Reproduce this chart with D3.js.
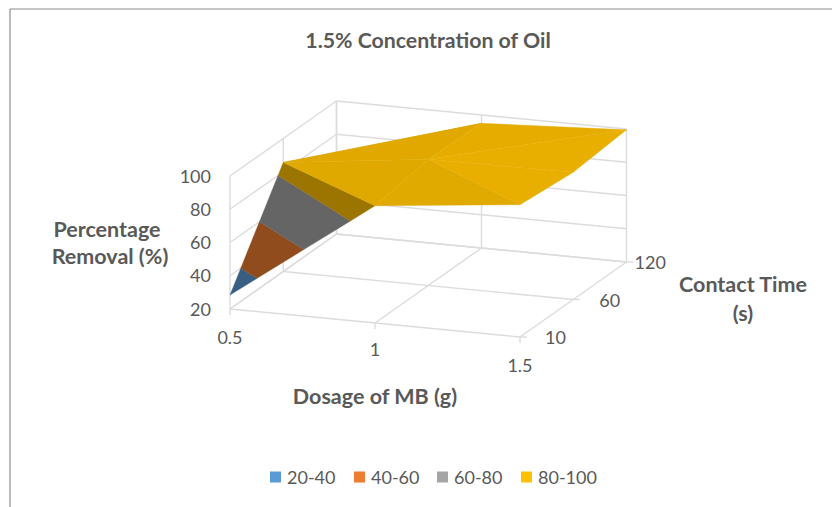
<!DOCTYPE html>
<html>
<head>
<meta charset="utf-8">
<script src="https://cdn.jsdelivr.net/npm/d3@7"></script>
<style>
html,body{margin:0;padding:0;background:#fff}
svg{display:block}
text{font-family:Lato,"Open Sans",sans-serif;fill:#595959}
</style>
</head>
<body>
<svg id="chart" width="832" height="507"></svg>
<script>
// Surface chart data: percentage removal by dosage (rows) and contact time (columns)
const doses = ["0.5", "1", "1.5"];
const times = ["10", "60", "120"];
const removalAtDose05 = [28.4, 85.6, 68];
const removalAtDose10 = [90.5, 96, 95];
const removalAtDose15 = [99.6, 96.5, 99.5];
const zTicks = [20, 40, 60, 80, 100];
const bandNames = ["20-40", "40-60", "60-80", "80-100"];
const bandColors = ["#5b9bd5", "#ed7d31", "#a5a5a5", "#ffc000"];
const removal = [removalAtDose05, removalAtDose10, removalAtDose15];

const svg = d3.select("#chart");

// Oblique projection: each axis contributes a screen offset through its own scales
const origin = [230, 309];
const doseX = d3.scalePoint(doses, [0, 290]);
const doseY = d3.scalePoint(doses, [0, 28]);
const timeX = d3.scalePoint(times, [0, 106.5]);
const timeY = d3.scalePoint(times, [0, -75]);
const zY = d3.scaleLinear([20, 100], [0, -133]);

const project = (d, t, z) => [
  origin[0] + doseX(d) + timeX(t),
  origin[1] + doseY(d) + timeY(t) + zY(z)
];
// Same projection for fractional grid positions on the surface
const projectVertex = v => {
  const x = origin[0] + doseX.range()[1] * v.i / 2 + timeX.range()[1] * v.j / 2;
  const y = origin[1] + doseY.range()[1] * v.i / 2 + timeY.range()[1] * v.j / 2 + zY(v.z);
  return [x, y];
};

// Frame around the chart area
const frame = svg.append("g").attr("stroke", "#8c8c8c").attr("stroke-width", 1.2);
frame.append("line").attr("x1", 10).attr("y1", 9).attr("x2", 832).attr("y2", 9);
frame.append("line").attr("x1", 10).attr("y1", 9).attr("x2", 10).attr("y2", 507);

// Walls and floor grid
const grid = svg.append("g").attr("stroke", "#dcdcdc").attr("stroke-width", 1.4).attr("fill", "none");
const seg = (a, b) => grid.append("line")
  .attr("x1", a[0]).attr("y1", a[1]).attr("x2", b[0]).attr("y2", b[1]);
const d0 = doses[0], d2 = doses[2], t0 = times[0], t2 = times[2];

zTicks.forEach(z => {
  seg(project(d0, t0, z), project(d0, t2, z));
  seg(project(d0, t2, z), project(d2, t2, z));
});
times.forEach(t => {
  seg(project(d0, t, 20), project(d2, t, 20));
  seg(project(d0, t, 20), project(d0, t, 100));
});
doses.forEach(d => {
  seg(project(d, t0, 20), project(d, t2, 20));
  seg(project(d, t2, 20), project(d, t2, 100));
});

// Tick marks on the floor edges
doses.forEach(d => {
  const p = project(d, t0, 20);
  seg(p, [p[0], p[1] + 6]);
});
times.forEach(t => {
  const p = project(d2, t, 20);
  seg(p, [p[0] + 7, p[1]]);
});

// Surface triangles in back-to-front order
const vertex = (i, j) => ({ i, j, z: removal[i][j] });
const triangles = [
  [vertex(0, 1), vertex(0, 2), vertex(1, 2)],
  [vertex(0, 1), vertex(1, 1), vertex(1, 2)],
  [vertex(1, 1), vertex(1, 2), vertex(2, 2)],
  [vertex(1, 1), vertex(2, 1), vertex(2, 2)],
  [vertex(0, 0), vertex(0, 1), vertex(1, 0)],
  [vertex(0, 1), vertex(1, 0), vertex(1, 1)],
  [vertex(1, 0), vertex(1, 1), vertex(2, 0)],
  [vertex(1, 1), vertex(2, 0), vertex(2, 1)]
];

// Lambert-style shading from the triangle's slope in grid steps
const light = [0.38, 0.03, 0.925];
function shadeOf(tri) {
  const [a, b, c] = tri;
  const u = [b.i - a.i, b.j - a.j, (b.z - a.z) / 80];
  const v = [c.i - a.i, c.j - a.j, (c.z - a.z) / 80];
  let n = [u[1] * v[2] - u[2] * v[1], u[2] * v[0] - u[0] * v[2], u[0] * v[1] - u[1] * v[0]];
  if (n[2] < 0) n = n.map(q => -q);
  const len = Math.hypot(...n);
  const dot = (n[0] * light[0] + n[1] * light[1] + n[2] * light[2]) / len;
  return 0.36 + 0.6 * dot;
}

// Clip a polygon to one side of a height level
function clipZ(poly, level, keepAbove) {
  const inside = p => keepAbove ? p.z >= level : p.z <= level;
  const out = [];
  poly.forEach((p, k) => {
    const q = poly[(k + 1) % poly.length];
    if (inside(p)) out.push(p);
    if (inside(p) !== inside(q)) {
      const f = (level - p.z) / (q.z - p.z);
      out.push({ i: p.i + f * (q.i - p.i), j: p.j + f * (q.j - p.j), z: level });
    }
  });
  return out;
}

const outline = d3.line();
const surface = svg.append("g");
triangles.forEach(tri => {
  const shade = shadeOf(tri);
  bandColors.forEach((color, b) => {
    let poly = clipZ(tri, zTicks[b], true);
    if (poly.length) poly = clipZ(poly, zTicks[b + 1], false);
    if (poly.length < 3) return;
    const c = d3.rgb(color);
    const fill = d3.rgb(c.r * shade, c.g * shade, c.b * shade).formatHex();
    surface.append("path")
      .attr("d", outline(poly.map(projectVertex)) + "Z")
      .attr("fill", fill)
      .attr("stroke", fill)
      .attr("stroke-width", 0.4)
      .attr("stroke-linejoin", "round");
  });
});

// Value axis labels
const tickSize = 18;
zTicks.forEach(z => {
  const p = project(d0, t0, z);
  svg.append("text").attr("x", p[0] - 19).attr("y", p[1] + 6.5)
    .attr("text-anchor", "end").attr("font-size", tickSize).text(z);
});
// Dosage labels
const doseLabelDy = { "0.5": 35, "1": 33, "1.5": 35 };
doses.forEach(d => {
  const p = project(d, t0, 20);
  svg.append("text").attr("x", p[0]).attr("y", p[1] + doseLabelDy[d])
    .attr("text-anchor", "middle").attr("font-size", tickSize).text(d);
});
// Contact time labels
const timeLabelDx = { "10": 25, "60": 26, "120": 8 };
times.forEach(t => {
  const p = project(d2, t, 20);
  svg.append("text").attr("x", p[0] + timeLabelDx[t]).attr("y", p[1] + 7)
    .attr("text-anchor", "start").attr("font-size", tickSize).text(t);
});

// Title and axis titles
const bold = (x, y, size, s) => svg.append("text").attr("x", x).attr("y", y)
  .attr("text-anchor", "middle").attr("font-size", size).attr("font-weight", 700).text(s);
bold(428, 48, 21.3, "1.5% Concentration of Oil");
bold(107, 237, 21.5, "Percentage");
bold(110, 264, 21.5, "Removal (%)");
bold(743, 292, 21.5, "Contact Time");
bold(743, 321, 21.5, "(s)");
bold(375, 404, 21.5, "Dosage of MB (g)");

// Legend
const legendX = [270, 354, 437, 521];
const legend = svg.append("g");
bandNames.forEach((name, k) => {
  legend.append("rect").attr("x", legendX[k]).attr("y", 471.5)
    .attr("width", 11).attr("height", 11).attr("fill", bandColors[k]);
  legend.append("text").attr("x", legendX[k] + 17).attr("y", 484)
    .attr("font-size", tickSize).text(name);
});
</script>
</body>
</html>
